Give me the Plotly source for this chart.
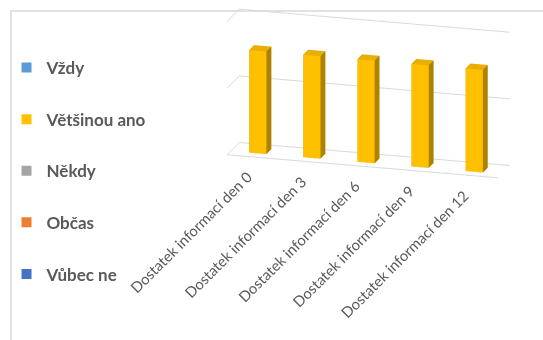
import plotly.graph_objects as go

# ---- data -------------------------------------------------------------
categories = [
    "Dostatek informací den 0",
    "Dostatek informací den 3",
    "Dostatek informací den 6",
    "Dostatek informací den 9",
    "Dostatek informací den 12",
]
series_names = ["Vždy", "Většinou ano", "Někdy", "Občas", "Vůbec ne"]
series_colors = ["#5B9BD5", "#FFC000", "#A5A5A5", "#ED7D31", "#4472C4"]

vzdy = [0, 0, 0, 0, 0]
vetsinou_ano = [77, 77, 77, 77, 77]
nekdy = [0, 0, 0, 0, 0]
obcas = [0, 0, 0, 0, 0]
vubec_ne = [0, 0, 0, 0, 0]
series_values = [vzdy, vetsinou_ano, nekdy, obcas, vubec_ne]

value_gridlines = [0, 50, 100]

# ---- styling ----------------------------------------------------------
GRID = "#D9D9D9"
TEXT = "#595959"
BAR_W = 0.32      # column width in category units
BAR_D0, BAR_D1 = 0.3, 0.7   # column depth span inside the floor


def shade(hex_color, f):
    h = hex_color.lstrip("#")
    r, g, b = (int(h[i:i + 2], 16) for i in (0, 2, 4))
    return "#%02X%02X%02X" % (int(r * f), int(g * f), int(b * f))


def columns_mesh(values, color, name):
    xs, ys, zs, ii, jj, kk, fc = [], [], [], [], [], [], []
    front, side, top = color, shade(color, 0.68), shade(color, 0.91)
    for idx, v in enumerate(values):
        if not v:
            continue
        x0, x1 = idx - BAR_W / 2, idx + BAR_W / 2
        y0, y1 = BAR_D0, BAR_D1
        base = len(xs)
        for (x, y, z) in [(x0, y0, 0), (x1, y0, 0), (x1, y1, 0), (x0, y1, 0),
                          (x0, y0, v), (x1, y0, v), (x1, y1, v), (x0, y1, v)]:
            xs.append(x); ys.append(y); zs.append(z)
        faces = [
            ((0, 1, 5), front), ((0, 5, 4), front),
            ((1, 2, 6), side), ((1, 6, 5), side),
            ((4, 5, 6), top), ((4, 6, 7), top),
            ((3, 2, 6), side), ((3, 6, 7), side),
            ((0, 3, 7), side), ((0, 7, 4), side),
            ((0, 1, 2), side), ((0, 2, 3), side),
        ]
        for (a, b, c), col in faces:
            ii.append(base + a); jj.append(base + b); kk.append(base + c)
            fc.append(col)
    return go.Mesh3d(
        x=xs, y=ys, z=zs, i=ii, j=jj, k=kk, facecolor=fc,
        flatshading=True,
        lighting=dict(ambient=1.0, diffuse=0.0, specular=0.0,
                      roughness=1.0, fresnel=0.0),
        hoverinfo="skip", showlegend=False, legendgroup=name, name=name,
    )


fig = go.Figure()
for name, color, vals in zip(series_names, series_colors, series_values):
    if any(vals):
        fig.add_trace(columns_mesh(vals, color, name))
    # legend entry for the series
    fig.add_trace(go.Scatter3d(
        x=[None], y=[None], z=[None], mode="markers", name=name,
        legendgroup=name, showlegend=True,
        marker=dict(symbol="square", size=10, color=color),
    ))

axis_common = dict(
    showbackground=False, showspikes=False, showticklabels=False,
    title=dict(text=""), ticks="", zeroline=False,
)

label_annotations = [
    dict(x=i, y=0, z=0, text=cat, showarrow=False, textangle=-45,
         xanchor="right", yanchor="top", xshift=4, yshift=-8,
         font=dict(family="Lato", size=14.8, color=TEXT))
    for i, cat in enumerate(categories)
]

# camera: view from front-right, slightly above; look-at point nudged so
# the box sits in the right part of the figure
view_dir = (0.2677, -0.9183, 0.2915)
look_at = (-0.1021, -0.0298, 0.0)
eye_dist = 2.0

fig.update_layout(
    width=543, height=340,
    margin=dict(l=0, r=0, t=0, b=0),
    paper_bgcolor="white",
    font=dict(family="Lato", color=TEXT),
    scene=dict(
        domain=dict(x=[0.32, 1.0], y=[0.45, 1.0]),
        xaxis=dict(range=[-0.5, len(categories) - 0.5], showgrid=False,
                   showline=True, linecolor=GRID, linewidth=2, **axis_common),
        yaxis=dict(range=[0, 1], showgrid=False, showline=False, **axis_common),
        zaxis=dict(range=[value_gridlines[0], value_gridlines[-1]],
                   tickvals=value_gridlines, showgrid=True, gridcolor=GRID,
                   gridwidth=2, showline=False, **axis_common),
        aspectmode="manual",
        aspectratio=dict(x=3.014, y=0.468, z=1.49),
        camera=dict(
            eye=dict(x=look_at[0] + eye_dist * view_dir[0],
                     y=look_at[1] + eye_dist * view_dir[1],
                     z=look_at[2] + eye_dist * view_dir[2]),
            center=dict(x=look_at[0], y=look_at[1], z=look_at[2]),
            up=dict(x=0, y=0, z=1),
            projection=dict(type="orthographic"),
        ),
        annotations=label_annotations,
    ),
    legend=dict(
        x=0.012, y=1 - 50 / 340, xanchor="left", yanchor="top",
        font=dict(family="Lato", size=17, color=TEXT, weight="bold"),
        tracegroupgap=26.5, bgcolor="rgba(0,0,0,0)",
    ),
    shapes=[dict(type="rect", xref="paper", yref="paper",
                 x0=11 / 543, x1=1.2, y0=-0.2, y1=1 - 11 / 340,
                 line=dict(color=GRID, width=1.5), layer="below")],
)

fig.write_html("out.html")
